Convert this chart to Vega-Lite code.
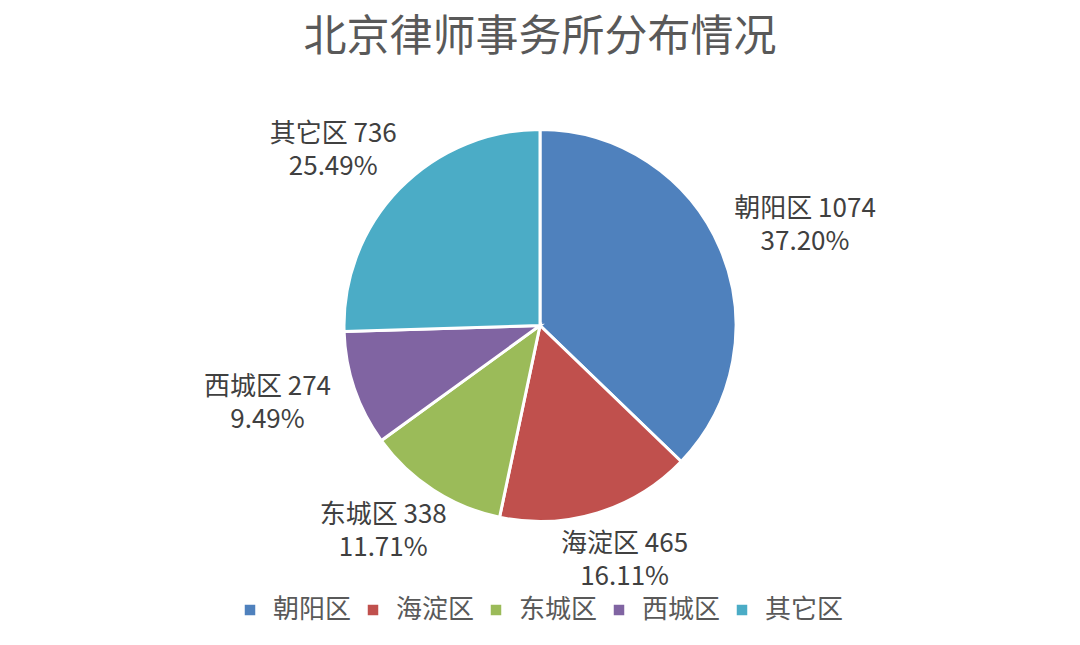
{
  "$schema": "https://vega.github.io/schema/vega-lite/v6.json",
  "autosize": {"type": "fit", "contains": "padding"},
  "width": 1080,
  "height": 645,
  "padding": {"top": 17, "bottom": 22, "left": 5, "right": 5},
  "background": "white",
  "title": {
    "text": "北京律师事务所分布情况",
    "fontSize": 43,
    "font": "Noto Sans CJK SC",
    "fontWeight": "normal",
    "color": "#595959",
    "anchor": "middle",
    "offset": 6
  },
  "data": {
    "values": [
      {"district": "朝阳区", "count": 1074},
      {"district": "海淀区", "count": 465},
      {"district": "东城区", "count": 338},
      {"district": "西城区", "count": 274},
      {"district": "其它区", "count": 736}
    ]
  },
  "transform": [
    {"window": [{"op": "row_number", "as": "idx"}]},
    {"joinaggregate": [{"op": "sum", "field": "count", "as": "total"}]},
    {"calculate": "datum.district + ' ' + datum.count + '\\n' + format(datum.count / datum.total, '.2%')", "as": "label"}
  ],
  "encoding": {
    "theta": {"field": "count", "type": "quantitative", "stack": true},
    "order": {"field": "idx", "type": "quantitative"},
    "color": {
      "field": "district",
      "type": "nominal",
      "scale": {
        "domain": ["朝阳区", "海淀区", "东城区", "西城区", "其它区"],
        "range": ["#4F81BD", "#C0504D", "#9BBB59", "#8064A2", "#4BACC6"]
      },
      "legend": {
        "orient": "bottom",
        "direction": "horizontal",
        "title": null,
        "symbolType": "square",
        "symbolSize": 110,
        "symbolStrokeWidth": 0,
        "labelFont": "Noto Sans CJK SC",
        "labelFontSize": 26,
        "labelColor": "#595959",
        "columnPadding": 8,
        "labelOffset": 10,
        "labelLimit": 300,
        "offset": 12
      }
    }
  },
  "layer": [
    {
      "mark": {"type": "arc", "outerRadius": 196, "stroke": "white", "strokeWidth": 3}
    },
    {
      "mark": {
        "type": "text",
        "radius": 248,
        "dy": -19,
        "dx": {"expr": "40 * sin(PI * (datum.count_start + datum.count_end) / datum.total)"},
        "font": "Noto Sans CJK SC",
        "fontSize": 26,
        "lineBreak": "\n",
        "lineHeight": 33,
        "align": "center",
        "baseline": "middle"
      },
      "encoding": {
        "text": {"field": "label", "type": "nominal"},
        "color": {"value": "#404040"}
      }
    }
  ],
  "config": {
    "view": {"stroke": null},
    "legend": {"layout": {"bottom": {"anchor": "middle"}}}
  }
}
